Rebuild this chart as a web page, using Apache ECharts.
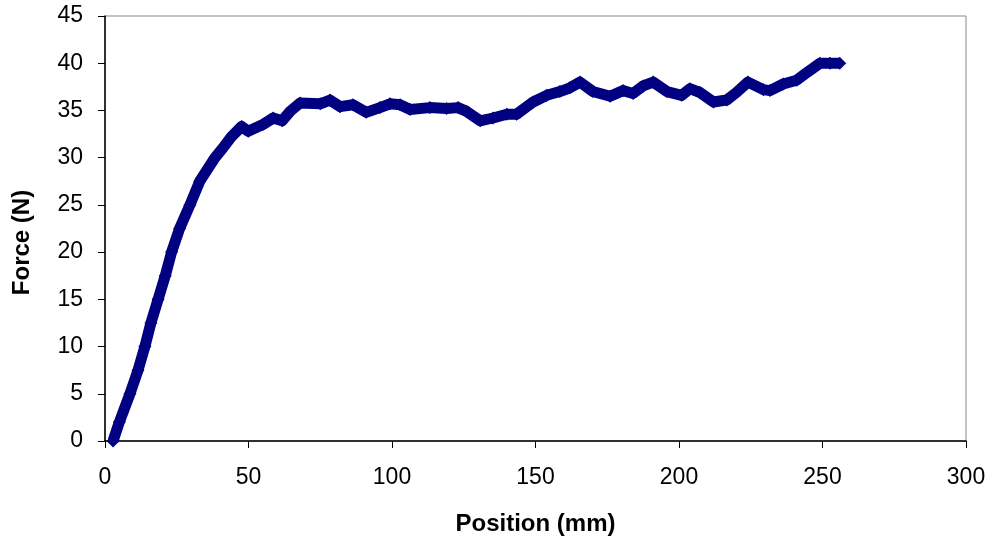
<!DOCTYPE html>
<html>
<head>
<meta charset="utf-8">
<script src="https://cdn.jsdelivr.net/npm/echarts@6/dist/echarts.min.js"></script>
<style>
  html, body { margin: 0; padding: 0; background: #fff; }
  #chart { width: 995px; height: 541px; }
</style>
</head>
<body>
<div id="chart"></div>
<script>
// position (mm)
var positions = [2.8, 5, 8.7, 11.5, 13.9, 16, 18.5, 21, 23.2, 26, 29.6, 33, 38.3, 41, 44,
    47.6, 49.9, 55, 58.6, 61.7, 64.5, 68, 75, 78.4, 81.9, 86.4, 91, 95.8, 99.3, 102.8,
    106.3, 113.2, 119, 123, 126, 130.7, 135.2, 140, 143.4, 149.2, 153.9, 158.5, 162, 165.5,
    170, 176, 180.5, 184, 187.5, 191, 195.8, 200.9, 203.8, 207.3, 212, 216.6, 220, 224,
    229.4, 231.7, 236.3, 241, 244.5, 249.1, 252.6, 256];
// force (N)
var forces = [0, 2, 5, 7.5, 10, 12.5, 15, 17.5, 20, 22.5, 25, 27.5, 30, 31, 32.2,
    33.3, 32.8, 33.5, 34.2, 33.9, 34.9, 35.8, 35.7, 36.1, 35.4, 35.6, 34.8, 35.3, 35.7, 35.6,
    35.1, 35.3, 35.2, 35.3, 34.9, 33.9, 34.2, 34.6, 34.6, 35.9, 36.6, 37.0, 37.4, 38.0,
    37.0, 36.5, 37.1, 36.8, 37.6, 38.0, 37.0, 36.6, 37.3, 36.9, 35.9, 36.1, 36.9, 38.0,
    37.2, 37.1, 37.8, 38.2, 39.0, 40.0, 40.0, 40.0];

var points = [];
for (var i = 0; i < positions.length; i++) {
    points.push([positions[i], forces[i]]);
}

var myChart = echarts.init(document.getElementById('chart'));
var font = 'Liberation Sans, Arial, sans-serif';
var options = {
    animation: false,
    grid: {
        left: 105, right: 29, top: 16, bottom: 98,
        show: true, borderColor: '#888', borderWidth: 1
    },
    xAxis: {
        type: 'value', min: 0, max: 300, interval: 50,
        name: 'Position (mm)', nameLocation: 'middle', nameGap: 71,
        nameTextStyle: { fontFamily: font, fontSize: 24, fontWeight: 'bold', color: '#000' },
        axisLine: { show: true, lineStyle: { color: '#000', width: 1.5 } },
        axisTick: { show: true, inside: false, length: 7, lineStyle: { color: '#000' } },
        axisLabel: { fontFamily: font, fontSize: 23, color: '#000', margin: 25 },
        splitLine: { show: false }
    },
    yAxis: {
        type: 'value', min: 0, max: 45, interval: 5,
        name: 'Force (N)', nameLocation: 'middle', nameGap: 71, nameRotate: 90,
        nameTextStyle: { fontFamily: font, fontSize: 24, fontWeight: 'bold', color: '#000',
            padding: [0, 28, 0, 0] },
        axisLine: { show: true, lineStyle: { color: '#000', width: 1.5 } },
        axisTick: { show: true, inside: false, length: 7, lineStyle: { color: '#000' } },
        axisLabel: { fontFamily: font, fontSize: 23, color: '#000', margin: 22 },
        splitLine: { show: false }
    },
    series: [{
        type: 'line',
        data: points,
        symbol: 'diamond',
        symbolSize: 13,
        showSymbol: true,
        itemStyle: { color: '#000080' },
        lineStyle: { color: '#000080', width: 11, join: 'round' }
    }]
};
myChart.setOption(options, true);
</script>
</body>
</html>
